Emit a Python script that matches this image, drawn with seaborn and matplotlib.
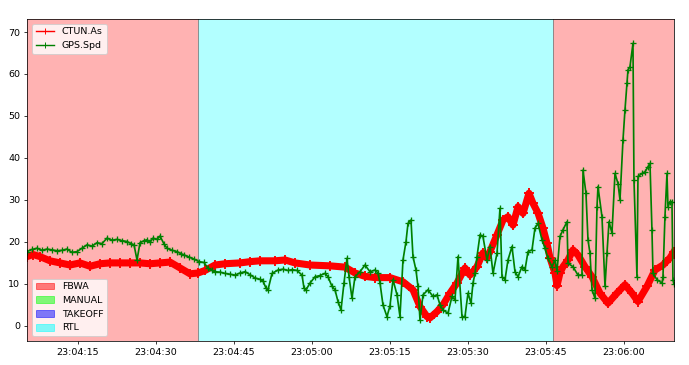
import numpy as np
import pandas as pd
import matplotlib
matplotlib.use("Agg")
import matplotlib.pyplot as plt
import matplotlib.dates as mdates
import matplotlib.patches as mpatches
from matplotlib.lines import Line2D
import seaborn as sns

# ---- data (seconds after 23:04:00) ----
ctun_sec = [5.19, 6.35, 7.69, 9.62, 11.54, 13.46, 15.38, 17.31, 19.23, 21.15, 23.08, 25.0, 26.92,
            28.85, 30.77, 32.69, 34.62, 36.54, 38.08, 39.42, 41.35, 43.27, 46.15, 48.08, 50.0,
            52.88, 54.81, 56.73, 59.62, 63.46, 66.35, 68.27, 70.19, 72.12, 75.0, 77.5, 79.42,
            80.77, 82.12, 82.69, 84.04, 85.19, 86.54, 87.88, 89.42, 90.38, 91.73, 92.88, 93.65,
            94.23, 95.58, 96.73, 97.69, 98.65, 99.62, 100.58, 101.73, 102.5, 103.46, 104.42,
            105.19, 105.77, 106.73, 107.12, 107.69, 108.27, 109.23, 110.19, 111.15, 112.5,
            113.85, 115.38, 116.92, 118.65, 120.19, 121.54, 122.69, 124.42, 125.96, 127.5,
            128.85, 129.62]
ctun_as = [16.5, 17.0, 16.5, 15.5, 15.0, 14.5, 15.0, 14.2, 14.8, 15.0, 15.0, 15.0, 15.0,
           14.8, 15.0, 15.2, 13.8, 12.4, 12.6, 13.2, 14.5, 14.8, 15.0, 15.3, 15.5,
           15.5, 15.7, 15.0, 14.5, 14.3, 14.0, 12.6, 11.8, 11.5, 11.5, 10.5, 8.6,
           4.6, 2.2, 1.9, 3.4, 5.0, 7.8, 10.2, 13.8, 12.1, 14.1, 17.4, 16.2,
           17.7, 21.7, 25.2, 26.0, 24.0, 28.4, 26.8, 31.6, 29.2, 26.9, 23.3,
           19.7, 16.2, 12.6, 9.6, 12.6, 14.1, 15.7, 18.1, 16.9, 14.1,
           11.7, 7.8, 5.4, 7.8, 9.8, 7.8, 5.8, 9.4, 13.3, 14.5,
           16.2, 17.7]

gps_sec = [5.19, 6.15, 7.12, 8.08, 9.04, 10.0, 10.96, 11.92, 12.88, 13.85, 14.81, 15.77, 16.73,
           17.69, 18.65, 19.62, 20.58, 21.54, 22.5, 23.46, 24.42, 25.19, 25.77, 26.35, 26.92,
           27.69, 28.27, 28.85, 29.42, 30.19, 30.77, 31.54, 32.12, 33.08, 34.04, 34.81, 35.38,
           36.35, 37.31, 38.27, 39.23, 40.0, 40.77, 41.35, 42.31, 43.27, 44.23, 45.19, 46.15,
           47.12, 48.08, 49.04, 50.0, 50.58, 51.15, 51.54, 52.31, 53.46, 54.42, 55.38, 56.15,
           57.12, 58.08, 58.46, 58.85, 59.62, 60.58, 61.54, 62.5, 63.08, 63.85, 64.42, 65.0,
           65.58, 66.15, 66.73, 67.12, 67.69, 68.27, 69.23, 70.19, 71.15, 72.12, 72.69, 73.08,
           73.65, 74.42, 75.0, 75.58, 76.35, 76.92, 77.5, 78.08, 78.46, 79.04, 79.42, 80.0,
           80.38, 80.77, 81.35, 82.31, 83.27, 84.04, 84.62, 85.19, 86.15, 86.92, 87.5, 88.08,
           88.85, 89.42, 90.0, 90.58, 90.96, 91.35, 91.73, 92.31, 92.88, 93.65, 94.23, 94.81,
           95.58, 96.15, 96.54, 97.12, 97.69, 98.46, 99.04, 99.62, 100.38, 100.96, 101.54,
           102.31, 102.88, 103.46, 104.23, 104.81, 105.38, 106.15, 106.73, 107.12, 107.69,
           108.27, 109.04, 109.23, 110.19, 111.15, 111.92, 112.12, 112.69, 113.08, 113.46,
           113.85, 114.42, 114.81, 115.0, 115.77, 116.35, 116.73, 117.12, 117.69, 118.27,
           118.85, 119.23, 119.81, 120.19, 120.58, 120.77, 121.15, 121.73, 121.92, 122.5,
           122.69, 123.46, 124.04, 124.62, 125.0, 125.38, 125.58, 126.35, 127.31, 127.5,
           127.88, 128.27, 128.46, 128.85, 129.23, 129.42, 129.62]
gps_spd = [17.7, 18.2, 18.5, 18.0, 18.3, 18.1, 17.9, 18.0, 18.3, 17.5, 17.7, 18.5, 19.3,
           19.0, 19.8, 19.6, 20.9, 20.4, 20.6, 20.3, 20.1, 19.6, 19.3, 15.7, 19.8,
           20.3, 20.5, 19.9, 20.9, 20.6, 21.4, 19.5, 18.5, 18.0, 17.7, 17.2, 16.9,
           16.4, 15.9, 15.3, 15.1, 13.7, 13.2, 12.9, 12.8, 12.5, 12.3, 12.1, 12.6,
           12.9, 12.2, 11.4, 11.1, 10.7, 9.0, 8.6, 12.5, 13.3, 13.5, 13.2, 13.4,
           13.2, 12.1, 9.0, 8.6, 10.2, 11.7, 12.0, 12.5, 11.7, 9.4, 8.6, 5.8,
           3.8, 10.2, 16.1, 11.7, 6.6, 11.7, 12.9, 14.5, 12.9, 13.3, 12.6, 10.2,
           5.0, 2.2, 4.8, 11.0, 7.4, 2.2, 15.7, 20.1, 24.4, 25.2, 16.5, 13.3,
           9.4, 1.4, 7.4, 8.6, 7.0, 7.4, 5.0, 3.8, 3.0, 7.0, 6.2, 16.5,
           2.2, 2.2, 7.8, 5.4, 10.2, 12.5, 16.5, 21.7, 21.3, 15.7, 18.9, 12.5,
           17.3, 28.0, 11.7, 11.0, 15.7, 18.9, 12.9, 11.7, 14.1, 13.3, 17.7,
           18.1, 23.3, 24.4, 20.5, 18.5, 16.1, 14.1, 15.7, 13.0, 21.3,
           22.9, 24.8, 14.9, 14.1, 12.1, 12.1, 37.1, 31.6, 20.5, 17.3,
           8.6, 6.6, 28.4, 33.2, 26.0, 9.4, 17.3, 24.8, 22.1, 36.3,
           33.9, 30.0, 44.3, 51.4, 57.8, 61.0, 61.7, 67.3, 34.8, 11.7,
           35.6, 36.3, 36.7, 37.9, 38.7, 22.9, 12.5, 11.0, 10.2, 11.7,
           26.0, 36.3, 28.4, 29.6, 29.6, 11.0, 10.0]

mode_names = ["FBWA", "RTL", "FBWA"]
mode_start = [5.19, 38.08, 106.35]
mode_end = [38.08, 106.35, 129.62]

legend_modes = ["FBWA", "MANUAL", "TAKEOFF", "RTL"]
mode_colors = {"FBWA": "red", "MANUAL": "lime", "TAKEOFF": "blue", "RTL": "cyan"}

base = pd.Timestamp("2023-01-01 23:04:00")
def to_time(s):
    return base + pd.to_timedelta(np.asarray(s), unit="s")

ctun = pd.DataFrame({"time": to_time(ctun_sec), "value": ctun_as})
gps = pd.DataFrame({"time": to_time(gps_sec), "value": gps_spd})

DPI = 68
fig = plt.figure(figsize=(689 / DPI, 365 / DPI), dpi=DPI)
ax = fig.add_axes([27 / 689, 24 / 365, 647 / 689, 322 / 365])

# mode background spans
for name, s, e in zip(mode_names, mode_start, mode_end):
    ax.axvspan(to_time([s])[0], to_time([e])[0], facecolor=mode_colors[name], alpha=0.3, lw=0)
for s in mode_start[1:]:
    ax.axvline(to_time([s])[0], color="gray", lw=1.0, alpha=0.9)

# CTUN.As : dense thick red band of '+' markers
sns.lineplot(data=ctun, x="time", y="value", ax=ax, color="red", lw=7.5, legend=False)
sns.lineplot(data=ctun, x="time", y="value", ax=ax, color="red", lw=1.5, marker="+",
             markersize=10, markeredgewidth=2.0, markeredgecolor="red", legend=False)
# GPS.Spd
sns.lineplot(data=gps, x="time", y="value", ax=ax, color="green", lw=1.8, marker="+",
             markersize=6.5, markeredgewidth=1.4, markeredgecolor="green", legend=False)

ax.set_xlim(to_time([ctun_sec[0]])[0], to_time([ctun_sec[-1]])[0])
ax.set_ylim(-3.6, 73.1)
ax.set_yticks([0, 10, 20, 30, 40, 50, 60, 70])
ax.xaxis.set_major_locator(mdates.SecondLocator(bysecond=[0, 15, 30, 45]))
ax.xaxis.set_major_formatter(mdates.DateFormatter("%H:%M:%S"))
ax.set_xlabel("")
ax.set_ylabel("")

line_handles = [Line2D([], [], color="red", marker="+", lw=1.5, markersize=6),
                Line2D([], [], color="green", marker="+", lw=1.5, markersize=6)]
leg1 = ax.legend(line_handles, ["CTUN.As", "GPS.Spd"], loc="upper left")
ax.add_artist(leg1)
patch_handles = [mpatches.Patch(facecolor=mode_colors[m], edgecolor=mode_colors[m], alpha=0.5)
                 for m in legend_modes]
ax.legend(patch_handles, legend_modes, loc="lower left")

fig.savefig("out.png", dpi=DPI)
